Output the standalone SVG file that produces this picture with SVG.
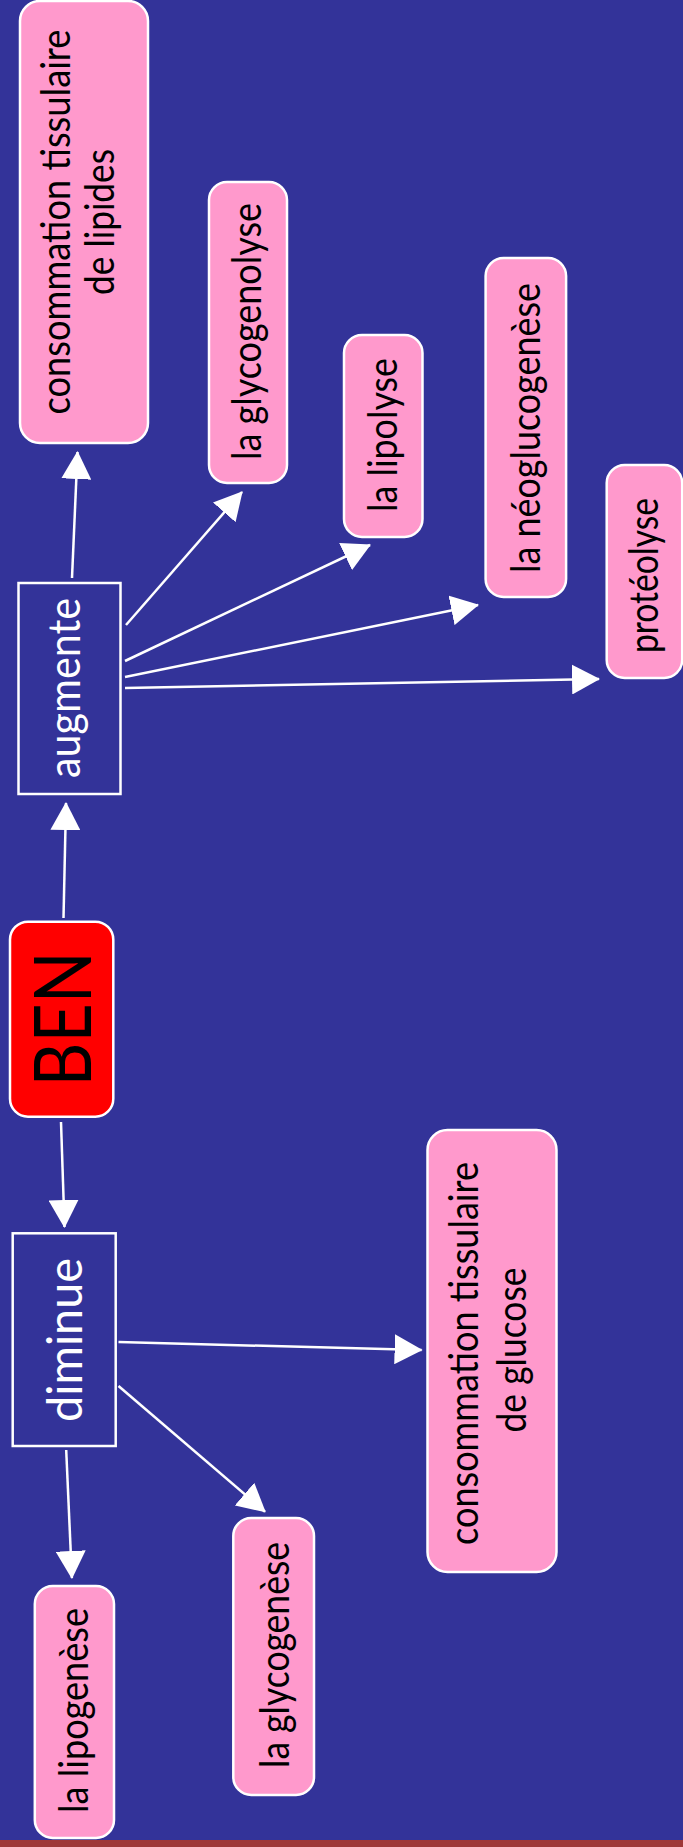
<svg xmlns="http://www.w3.org/2000/svg" width="683" height="1847" viewBox="0 0 683 1847">
<defs>
<marker id="ah" viewBox="0 0 28 30" refX="27" refY="15" markerWidth="28" markerHeight="30" markerUnits="userSpaceOnUse" orient="auto"><path d="M0,0 L28,15 L0,30 Z" fill="#ffffff"/></marker>
<style>
.pink{fill:#ff99cc;stroke:#ffffff;stroke-width:2.5}
.plain{fill:none;stroke:#ffffff;stroke-width:2.5}
.red{fill:#ff0000;stroke:#ffffff;stroke-width:2.5}
.t{font-family:Lato,"Liberation Sans",sans-serif;font-size:41px;fill:#000000;text-anchor:middle}
.w{fill:#ffffff}
#connectors line{stroke:#ffffff;stroke-width:2.5;marker-end:url(#ah)}
</style>
</defs>
<rect x="0" y="0" width="683" height="1847" fill="#333399"/>
<rect x="0" y="1840" width="683" height="7" fill="#9e3838"/>

<g id="connectors">
<line x1="72" y1="578" x2="77.5" y2="452"/>
<line x1="126" y1="625" x2="242" y2="492"/>
<line x1="125" y1="661" x2="370" y2="545"/>
<line x1="125" y1="677" x2="478" y2="605"/>
<line x1="125" y1="688" x2="599" y2="679"/>
<line x1="63.5" y1="918" x2="66" y2="803"/>
<line x1="61" y1="1122" x2="64.5" y2="1227"/>
<line x1="118.5" y1="1342" x2="421.6" y2="1350"/>
<line x1="118.5" y1="1386" x2="265" y2="1511.7"/>
<line x1="66.2" y1="1450" x2="71.9" y2="1578"/>
</g>

<g id="n-lipides">
<rect class="pink" x="20" y="1" width="128" height="442" rx="20"/>
<g transform="rotate(-90)">
<text class="t" x="-222" y="70" textLength="385" lengthAdjust="spacingAndGlyphs">consommation tissulaire</text>
<text class="t" x="-222" y="114" textLength="146" lengthAdjust="spacingAndGlyphs">de lipides</text>
</g>
</g>

<g id="n-glycogenolyse">
<rect class="pink" x="209" y="182" width="78" height="301" rx="18"/>
<text class="t" transform="rotate(-90)" x="-331.5" y="261" textLength="257" lengthAdjust="spacingAndGlyphs">la glycogenolyse</text>
</g>

<g id="n-lipolyse">
<rect class="pink" x="344" y="335" width="78.5" height="202" rx="18"/>
<text class="t" transform="rotate(-90)" x="-435" y="397" textLength="154" lengthAdjust="spacingAndGlyphs">la lipolyse</text>
</g>

<g id="n-neoglucogenese">
<rect class="pink" x="485.6" y="258" width="80.5" height="339" rx="18"/>
<text class="t" transform="rotate(-90)" x="-428" y="540" textLength="290" lengthAdjust="spacingAndGlyphs">la néoglucogenèse</text>
</g>

<g id="n-proteolyse">
<rect class="pink" x="606.7" y="465" width="75.5" height="213" rx="18"/>
<text class="t" transform="rotate(-90)" x="-575.5" y="658" textLength="155" lengthAdjust="spacingAndGlyphs">protéolyse</text>
</g>

<g id="n-augmente">
<rect class="plain" x="18.5" y="583" width="102" height="211"/>
<text class="t w" style="font-size:44px" transform="rotate(-90)" x="-688" y="80" textLength="180" lengthAdjust="spacingAndGlyphs">augmente</text>
</g>

<g id="n-ben">
<rect class="red" x="10" y="921.7" width="103.3" height="195" rx="18"/>
<text class="t" style="font-size:80px" transform="rotate(-90)" x="-1019" y="90.5" textLength="135" lengthAdjust="spacingAndGlyphs">BEN</text>
</g>

<g id="n-diminue">
<rect class="plain" x="12.7" y="1233.3" width="103" height="212.7"/>
<text class="t w" style="font-size:49px" transform="rotate(-90)" x="-1340" y="81.7" textLength="164" lengthAdjust="spacingAndGlyphs">diminue</text>
</g>

<g id="n-glucose">
<rect class="pink" x="427.5" y="1130" width="129" height="442" rx="20"/>
<g transform="rotate(-90)">
<text class="t" x="-1353.5" y="478.3" textLength="383" lengthAdjust="spacingAndGlyphs">consommation tissulaire</text>
<text class="t" x="-1350" y="526" textLength="165" lengthAdjust="spacingAndGlyphs">de glucose</text>
</g>
</g>

<g id="n-glycogenese">
<rect class="pink" x="233.3" y="1518" width="80.7" height="277" rx="18"/>
<text class="t" transform="rotate(-90)" x="-1655" y="289" textLength="226" lengthAdjust="spacingAndGlyphs">la glycogenèse</text>
</g>

<g id="n-lipogenese">
<rect class="pink" x="34.8" y="1586" width="79.2" height="252" rx="18"/>
<text class="t" transform="rotate(-90)" x="-1710.5" y="88" textLength="205" lengthAdjust="spacingAndGlyphs">la lipogenèse</text>
</g>
</svg>
